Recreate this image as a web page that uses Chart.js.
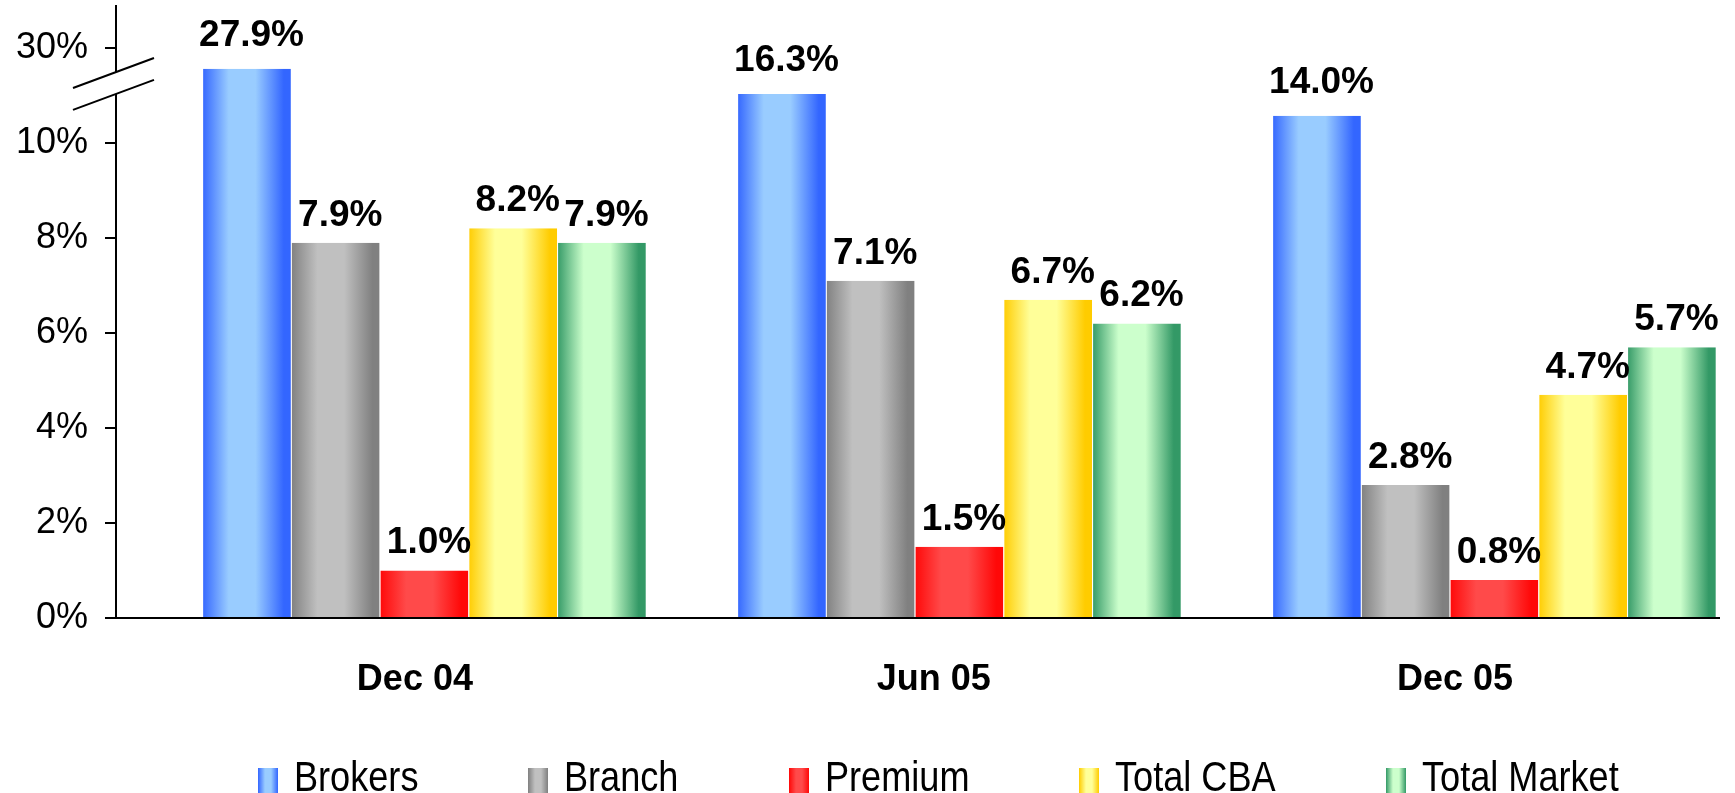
<!DOCTYPE html>
<html>
<head>
<meta charset="utf-8">
<script src="https://cdn.jsdelivr.net/npm/chart.js@4.4.1/dist/chart.umd.min.js"></script>
<style>
  body { margin: 0; background: #fff; }
  #wrap { position: relative; width: 1735px; height: 793px; overflow: hidden; }
  #legend {
    position: absolute; left: 258px; top: 756px; display: flex;
    font-family: "Liberation Sans", Arial, sans-serif; font-size: 42px; line-height: 42px; color: #000;
  }
  .item { display: flex; align-items: flex-start; margin-right: 110px; }
  .box { width: 20px; height: 27px; margin-top: 12px; margin-right: 16px; }
  .txt { display: inline-block; white-space: nowrap; transform: scaleX(0.86); transform-origin: left top; }
</style>
</head>
<body>
<div id="wrap">
  <canvas id="chart"></canvas>
  <div id="legend"></div>
</div>
<script>
// --- Data ---
const categories = ['Dec 04', 'Jun 05', 'Dec 05'];
const seriesNames = ['Brokers', 'Branch', 'Premium', 'Total CBA', 'Total Market'];

const brokers = [27.9, 16.3, 14.0];
const brokersOnBrokenAxis = [11.56, 11.03, 10.57];
const branch = [7.9, 7.1, 2.8];
const premium = [1.0, 1.5, 0.8];
const totalCBA = [8.2, 6.7, 4.7];
const totalMarket = [7.9, 6.2, 5.7];

const yTicks = [0, 2, 4, 6, 8, 10, 12];
const yTickLabels = ['0%', '2%', '4%', '6%', '8%', '10%', '30%'];

// edge colour, centre colour of each bar's horizontal gradient
const barColors = [
    ['#3366ff', '#99ccff'],
    ['#808080', '#c0c0c0'],
    ['#ff0808', '#ff4a4a'],
    ['#ffcc00', '#ffff99'],
    ['#339966', '#ccffcc']
];

const FONT = '"Liberation Sans", Arial, sans-serif';

const plotted = [brokersOnBrokenAxis, branch, premium, totalCBA, totalMarket];
const shown = [brokers, branch, premium, totalCBA, totalMarket];

const datasets = seriesNames.map((name, i) => ({
    label: name,
    data: categories.map((c, j) => ({ x: j, y: plotted[i][j] })),
    shown: shown[i],
    labelGap: i === 0 ? 23 : 17,
    backgroundColor: barColors[i][0],
    borderColor: '#ffffff',
    borderWidth: { left: 1, right: 0, top: 0, bottom: 0 },
    categoryPercentage: 0.855,
    barPercentage: 1
}));

// --- Plugins ---
const barGradient = {
    id: 'barGradient',
    beforeDatasetsDraw(chart) {
        const ctx = chart.ctx;
        chart.data.datasets.forEach((ds, i) => {
            const [edge, centre] = barColors[i];
            chart.getDatasetMeta(i).data.forEach(bar => {
                const { x, width } = bar.getProps(['x', 'width'], true);
                const g = ctx.createLinearGradient(x - width / 2, 0, x + width / 2, 0);
                g.addColorStop(0, edge);
                g.addColorStop(0.3, centre);
                g.addColorStop(0.6, centre);
                g.addColorStop(0.92, edge);
                g.addColorStop(1, edge);
                bar.options = Object.assign({}, bar.options, { backgroundColor: g });
            });
        });
    }
};

const valueLabels = {
    id: 'valueLabels',
    afterDatasetsDraw(chart) {
        const ctx = chart.ctx;
        ctx.save();
        ctx.font = 'bold 37px ' + FONT;
        ctx.fillStyle = '#000';
        ctx.textAlign = 'center';
        ctx.textBaseline = 'alphabetic';
        chart.data.datasets.forEach((ds, i) => {
            chart.getDatasetMeta(i).data.forEach((bar, j) => {
                ctx.fillText(ds.shown[j].toFixed(1) + '%', bar.x + 5, bar.y - ds.labelGap);
            });
        });
        ctx.restore();
    }
};

// the two slanted strokes marking the break between 10% and 30%
const axisBreak = {
    id: 'axisBreak',
    afterDraw(chart) {
        const ctx = chart.ctx;
        const ys = chart.scales.y;
        const x0 = ys.right;
        const ya = ys.getPixelForValue(11.49);
        const yb = ys.getPixelForValue(11.03);
        ctx.save();
        ctx.fillStyle = '#fff';
        ctx.fillRect(x0 - 3, ya, 6, yb - ya);
        ctx.strokeStyle = '#000';
        ctx.lineWidth = 2;
        [ya, yb].forEach(yk => {
            ctx.beginPath();
            ctx.moveTo(x0 - 43, yk + 16);
            ctx.lineTo(x0 + 38, yk - 14);
            ctx.stroke();
        });
        ctx.restore();
    }
};

// --- Chart ---
new Chart(document.getElementById('chart'), {
    type: 'bar',
    data: { datasets },
    options: {
        responsive: true,
        maintainAspectRatio: false,
        animation: false,
        events: [],
        layout: { padding: { left: 0, right: 16, top: 6, bottom: 0 } },
        plugins: {
            legend: { display: false },
            tooltip: { enabled: false }
        },
        scales: {
            x: {
                type: 'linear',
                offset: false,
                min: -0.5757,
                max: 2.4206,
                grid: { display: false, drawTicks: false, offset: false },
                border: { display: true, color: '#000', width: 2 },
                afterBuildTicks: s => { s.ticks = [-0.017, 0.953, 1.927].map(v => ({ value: v })); },
                afterFit: s => { s.height = 175; s.paddingLeft = 0; s.paddingRight = 0; },
                ticks: {
                    color: '#000',
                    font: { family: FONT, size: 36, weight: 'bold' },
                    padding: 40,
                    autoSkip: false,
                    maxRotation: 0,
                    callback: (v, i) => categories[i]
                }
            },
            y: {
                min: 0,
                max: 12.88,
                grid: { drawOnChartArea: false, drawTicks: true, tickLength: 11, color: '#000', lineWidth: 2 },
                border: { display: true, color: '#000', width: 2 },
                afterBuildTicks: s => { s.ticks = yTicks.map(v => ({ value: v })); },
                afterFit: s => { s.width = 116; s.paddingTop = 0; s.paddingBottom = 0; },
                ticks: {
                    color: '#000',
                    font: { family: FONT, size: 36 },
                    padding: 17,
                    callback: (v, i) => yTickLabels[i]
                }
            }
        }
    },
    plugins: [barGradient, valueLabels, axisBreak]
});

// --- Legend ---
const legendEl = document.getElementById('legend');
seriesNames.forEach((name, i) => {
    const item = document.createElement('div');
    item.className = 'item';
    const box = document.createElement('span');
    box.className = 'box';
    const [edge, centre] = barColors[i];
    box.style.background = `linear-gradient(to right, ${edge} 0%, ${centre} 35%, ${centre} 65%, ${edge} 100%)`;
    const txt = document.createElement('span');
    txt.className = 'txt';
    txt.textContent = name;
    item.appendChild(box);
    item.appendChild(txt);
    legendEl.appendChild(item);
    // the text is squeezed horizontally, so give back the unused layout width
    txt.style.marginRight = (txt.getBoundingClientRect().width - txt.offsetWidth) + 'px';
});
</script>
</body>
</html>
